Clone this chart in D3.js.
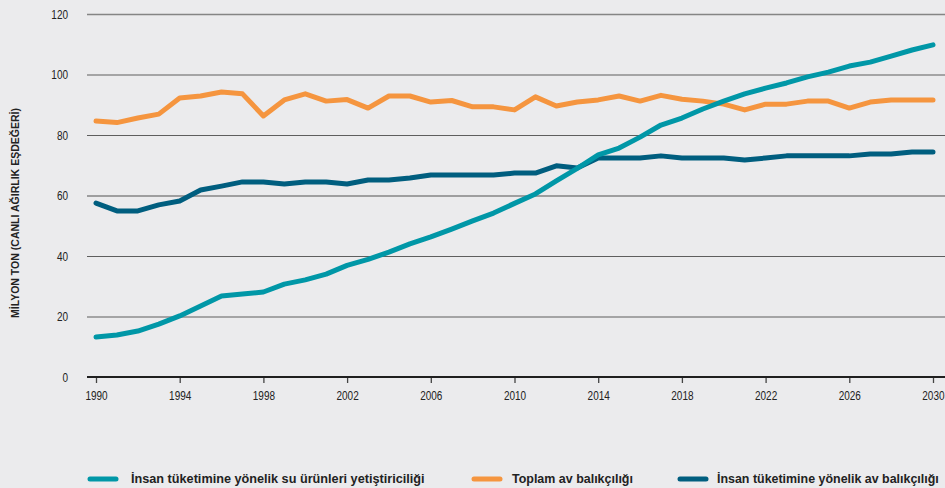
<!DOCTYPE html>
<meta charset="utf-8">
<html>
<head>
  <script src="https://cdn.jsdelivr.net/npm/d3@7"></script>
  <style>
    body { margin: 0; background: #ebebed; }
    svg { display: block; font-family: "Liberation Sans", "DejaVu Sans", sans-serif; }
    .tick text { fill: #222; font-size: 12.5px; }
    .legend text { fill: #222; font-size: 13.5px; font-weight: bold; }
  </style>
</head>
<body>
  <svg id="svg" width="945" height="488"></svg>
  <script>
    var years = d3.range(1990, 2031);
    var aquaculture = [13.2, 13.9, 15.2, 17.5, 20.2, 23.5, 26.8, 27.4, 28.1, 30.7,
      32.1, 34.0, 36.9, 38.9, 41.3, 44.0, 46.3, 48.9, 51.6, 54.2,
      57.4, 60.5, 64.8, 69.0, 73.4, 75.7, 79.3, 83.3, 85.6, 88.6,
      91.2, 93.6, 95.5, 97.2, 99.2, 100.8, 102.8, 104.1, 106.1, 108.1, 109.8];
    var totalCapture = [84.6, 84.1, 85.6, 86.9, 92.2, 92.9, 94.2, 93.6, 86.3, 91.6,
      93.6, 91.2, 91.7, 88.9, 92.9, 92.9, 90.9, 91.4, 89.3, 89.3,
      88.3, 92.6, 89.6, 90.9, 91.6, 92.9, 91.2, 93.1, 91.8, 91.2,
      90.2, 88.3, 90.2, 90.2, 91.2, 91.2, 88.9, 90.9, 91.6, 91.6, 91.6];
    var humanCapture = [57.5, 54.9, 54.9, 56.9, 58.2, 61.8, 63.1, 64.5, 64.5, 63.8,
      64.5, 64.5, 63.8, 65.1, 65.1, 65.8, 66.8, 66.8, 66.8, 66.8,
      67.4, 67.4, 69.8, 69.1, 72.4, 72.4, 72.4, 73.1, 72.4, 72.4,
      72.4, 71.7, 72.4, 73.1, 73.1, 73.1, 73.1, 73.7, 73.7, 74.4, 74.4];
    var yTicks = [0, 20, 40, 60, 80, 100, 120];
    var xTicks = d3.range(1990, 2031, 4);
    var seriesNames = ["İnsan tüketimine yönelik su ürünleri yetiştiriciliği",
      "Toplam av balıkçılığı", "İnsan tüketimine yönelik av balıkçılığı"];
    var colors = ["#0097a7", "#f5953f", "#005e7f"];

    var svg = d3.select("#svg");
    var x = d3.scaleLinear().domain([1990, 2030]).range([96, 933]);
    var y = d3.scaleLinear().domain([0, 120]).range([377, 14]);

    // grid lines + y labels
    svg.append("g")
      .attr("transform", "translate(87,0)")
      .call(d3.axisLeft(y).tickValues(yTicks).tickSize(-858).tickPadding(19))
      .call(function (g) {
        g.select(".domain").remove();
        g.selectAll(".tick line")
          .attr("stroke", function (d) { return d == 0 ? "none" : (d == 120 || d == 60 ? "#858585" : "#5e5e5e"); })
          .attr("stroke-width", function (d) { return d == 120 || d == 60 ? 1.6 : 1.2; });
        g.selectAll(".tick text")
          .attr("transform", "scale(0.8,1)")
          .attr("x", -19 / 0.8);
      });

    // x axis
    svg.append("g")
      .attr("transform", "translate(0,377)")
      .call(d3.axisBottom(x).tickValues(xTicks).tickFormat(d3.format("d")).tickSize(6).tickPadding(8))
      .call(function (g) {
        g.select(".domain").remove();
        g.selectAll(".tick line").attr("stroke", "#444").attr("stroke-width", 1.3);
        g.selectAll(".tick text")
          .attr("transform", "scale(0.8,1)")
          .attr("text-anchor", function (d) { return d == 2030 ? "end" : "middle"; })
          .attr("x", function (d) { return d == 2030 ? 11 / 0.8 : 0; });
      });
    svg.append("line")
      .attr("x1", 87).attr("x2", 945)
      .attr("y1", 377).attr("y2", 377)
      .attr("stroke", "#1f1f1f").attr("stroke-width", 2.2);

    // y title
    svg.append("text")
      .attr("transform", "translate(19,213) rotate(-90)")
      .attr("text-anchor", "middle")
      .attr("font-size", "11.5px")
      .attr("font-weight", "bold")
      .attr("fill", "#222")
      .attr("textLength", 210)
      .attr("lengthAdjust", "spacingAndGlyphs")
      .text("MİLYON TON (CANLI AĞIRLIK EŞDEĞERİ)");

    var line = d3.line()
      .x(function (d, i) { return x(years[i]); })
      .y(function (d) { return y(d); });

    [totalCapture, humanCapture, aquaculture].forEach(function (s, k) {
      var c = [colors[1], colors[2], colors[0]][k];
      svg.append("path")
        .datum(s)
        .attr("d", line)
        .attr("fill", "none")
        .attr("stroke", c)
        .attr("stroke-width", 5)
        .attr("stroke-linecap", "round")
        .attr("stroke-linejoin", "round");
    });

    // legend (squeeze the text horizontally to look condensed)
    var legendX = [88, 472, 678];
    var textX = [131, 512, 717];
    var textLen = [294, 121, 222];
    var legend = svg.append("g").attr("class", "legend");
    seriesNames.forEach(function (name, i) {
      legend.append("line")
        .attr("x1", legendX[i] + 2).attr("x2", legendX[i] + 28)
        .attr("y1", 479).attr("y2", 479)
        .attr("stroke", colors[i]).attr("stroke-width", 5)
        .attr("stroke-linecap", "round");
      var t = legend.append("text").text(name);
      var k = textLen[i] / t.node().getComputedTextLength();
      t.attr("transform", "translate(" + textX[i] + ",483) scale(" + k + ",1)");
    });
  </script>
</body>
</html>
